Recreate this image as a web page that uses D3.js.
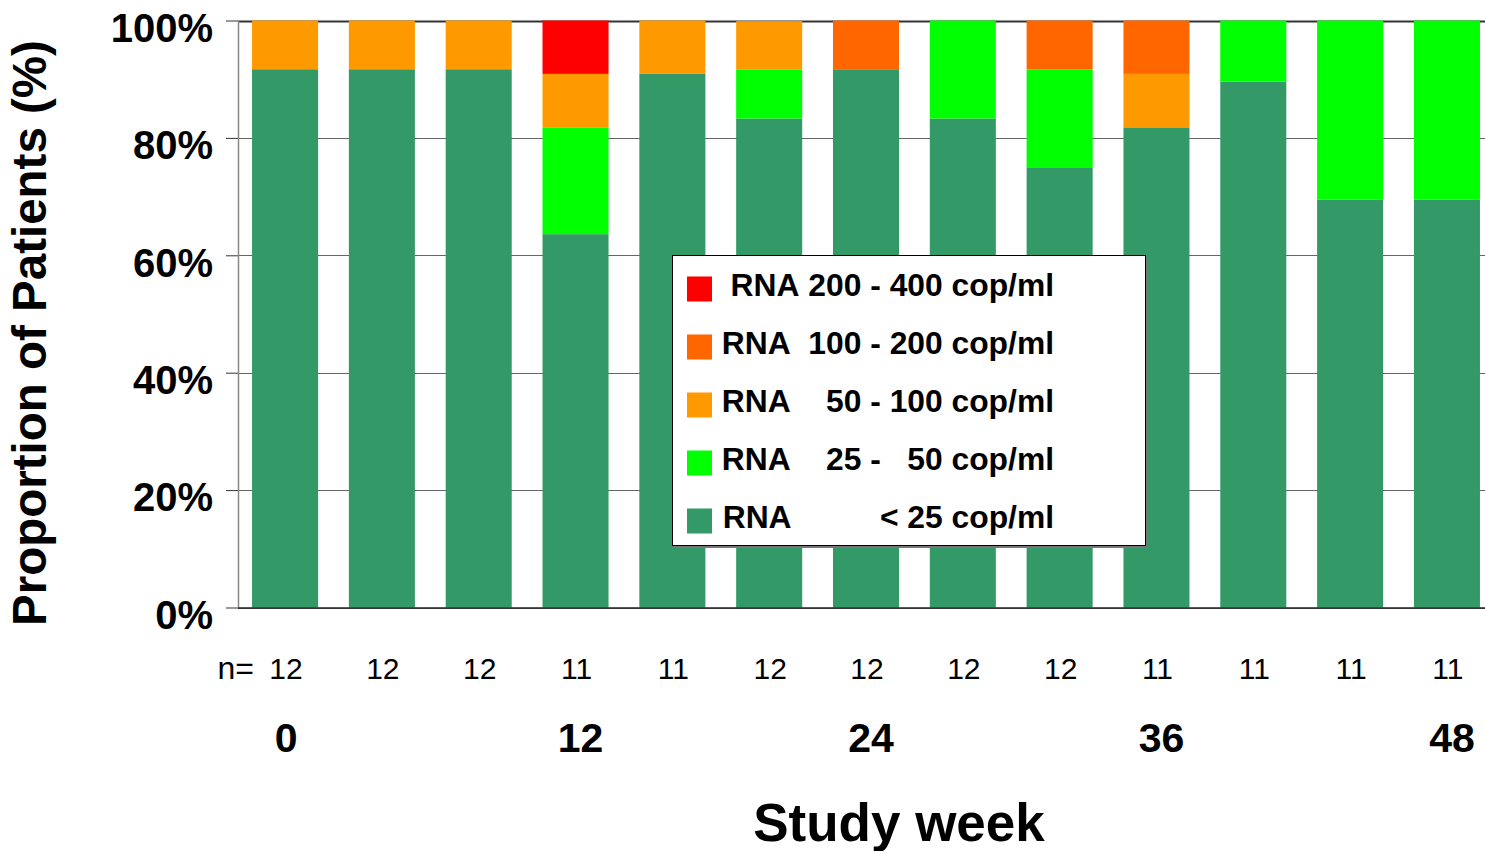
<!DOCTYPE html>
<html>
<head>
<meta charset="utf-8">
<script src="https://cdn.jsdelivr.net/npm/d3@7"></script>
<style>
  html, body { margin: 0; padding: 0; background: #fff; }
  svg { display: block; font-family: "Liberation Sans", Arial, sans-serif; }
</style>
</head>
<body>
<div id="chart"></div>
<script>
// data (percent of patients per visit)
var nLabels = ["12", "12", "12", "11", "11", "12", "12", "12", "12", "11", "11", "11", "11"];
var weekLabels = ["0", "", "", "12", "", "", "24", "", "", "36", "", "", "48"];
var below25   = [91.7, 91.7, 91.7, 63.6, 90.9, 83.3, 91.7, 83.3, 75.0, 81.8, 89.6, 69.5, 69.5];
var r25to50   = [0, 0, 0, 18.2, 0, 8.3, 0, 16.7, 16.7, 0, 10.4, 30.5, 30.5];
var r50to100  = [8.3, 8.3, 8.3, 9.1, 9.1, 8.3, 0, 0, 0, 9.1, 0, 0, 0];
var r100to200 = [0, 0, 0, 0, 0, 0, 8.3, 0, 8.3, 9.1, 0, 0, 0];
var r200to400 = [0, 0, 0, 9.1, 0, 0, 0, 0, 0, 0, 0, 0, 0];
var seriesKeys = ["lt25", "r25", "r50", "r100", "r200"];
var seriesColors = ["#339966", "#00ff00", "#ff9900", "#ff6600", "#ff0000"];
// legend, top row first (spacing as in the original)
var legendKeys = ["r200", "r100", "r50", "r25", "lt25"];
var legendLabels = [
    "RNA 200 - 400 cop/ml",
    "RNA  100 - 200 cop/ml",
    "RNA    50 - 100 cop/ml",
    "RNA    25 -   50 cop/ml",
    "RNA          < 25 cop/ml"
];
var yTicks = [0, 20, 40, 60, 80, 100];

var width = 1485, height = 851;
var plotLeft = 238, plotTop = 20.5, plotBottom = 607.5;

var rows = nLabels.map(function(n, i){
    return {i: i, lt25: below25[i], r25: r25to50[i], r50: r50to100[i], r100: r100to200[i], r200: r200to400[i]};
});

var svg = d3.select("#chart")
    .append("svg")
    .attr("width", width)
    .attr("height", height);

var x = d3.scaleBand()
    .domain(d3.range(nLabels.length))
    .range([plotLeft, 1494])
    .paddingInner(0.318)
    .paddingOuter(0.145);

var y = d3.scaleLinear()
    .domain([0, 100])
    .range([plotBottom, plotTop]);

var color = d3.scaleOrdinal()
    .domain(seriesKeys)
    .range(seriesColors);

// gridlines
svg.append("g")
    .selectAll("line")
    .data(yTicks)
    .enter()
    .append("line")
    .attr("x1", plotLeft)
    .attr("x2", width)
    .attr("y1", d => Math.round(y(d)) + 0.5)
    .attr("y2", d => Math.round(y(d)) + 0.5)
    .attr("stroke", d => (d === 100 ? "#333" : "#666"))
    .attr("stroke-width", d => (d === 100 ? 2 : 1));

// y axis
var yAxis = svg.append("g")
    .attr("transform", "translate(" + plotLeft + ",0)")
    .call(d3.axisLeft(y).tickValues(yTicks).tickSize(12).tickPadding(13).tickFormat(d => d + "%"));
yAxis.select(".domain").remove();
yAxis.selectAll(".tick line").attr("stroke", "#333");
yAxis.selectAll(".tick text")
    .attr("font-size", 40)
    .attr("font-weight", "bold")
    .attr("font-family", "Liberation Sans, Arial, sans-serif")
    .attr("fill", "#000")
    .attr("dy", "0.52em");

svg.append("line")
    .attr("x1", plotLeft + 0.5).attr("x2", plotLeft + 0.5)
    .attr("y1", plotTop).attr("y2", plotBottom)
    .attr("stroke", "#888")
    .attr("stroke-width", 1.5);

// stacked bars
var stacked = d3.stack().keys(seriesKeys)(rows);
svg.append("g")
    .selectAll("g")
    .data(stacked)
    .enter()
    .append("g")
    .attr("fill", d => color(d.key))
    .selectAll("rect")
    .data(d => d)
    .enter()
    .append("rect")
    .attr("x", d => x(d.data.i))
    .attr("width", x.bandwidth())
    .attr("y", d => y(d[1]))
    .attr("height", d => y(d[0]) - y(d[1]));

// baseline
svg.append("line")
    .attr("x1", plotLeft).attr("x2", width)
    .attr("y1", plotBottom + 0.5).attr("y2", plotBottom + 0.5)
    .attr("stroke", "#222")
    .attr("stroke-width", 1.5);

// n labels
svg.append("g")
    .selectAll("text")
    .data(nLabels)
    .enter()
    .append("text")
    .attr("x", (d, i) => x(i) + x.bandwidth() / 2 + 1)
    .attr("y", 679)
    .attr("text-anchor", "middle")
    .attr("font-size", 30)
    .text(d => d);
svg.append("text")
    .attr("x", x(0) + x.bandwidth() / 2 - 31)
    .attr("y", 679)
    .attr("text-anchor", "end")
    .attr("font-size", 32)
    .text("n=");

// week labels
svg.append("g")
    .selectAll("text")
    .data(weekLabels)
    .enter()
    .append("text")
    .attr("x", (d, i) => x(i) + x.bandwidth() / 2 + (i === 0 ? 1 : 5))
    .attr("y", 752)
    .attr("text-anchor", "middle")
    .attr("font-size", 41)
    .attr("font-weight", "bold")
    .text(d => d);

svg.append("text")
    .attr("x", 899)
    .attr("y", 841)
    .attr("text-anchor", "middle")
    .attr("font-size", 53)
    .attr("font-weight", "bold")
    .text("Study week");

svg.append("text")
    .attr("transform", "translate(46,333)rotate(-90)")
    .attr("text-anchor", "middle")
    .attr("font-size", 47.5)
    .attr("font-weight", "bold")
    .text("Proportion of Patients (%)");

// legend
var lg = svg.append("g").attr("transform", "translate(672,255)");
lg.append("rect")
    .attr("x", 2).attr("y", 2)
    .attr("width", 473).attr("height", 291)
    .attr("fill", "#777");
lg.append("rect")
    .attr("x", 0.5).attr("y", 0.5)
    .attr("width", 473).attr("height", 290)
    .attr("fill", "#fff")
    .attr("stroke", "#000")
    .attr("stroke-width", 1);

var item = lg.selectAll("g.item")
    .data(legendKeys)
    .enter()
    .append("g")
    .attr("class", "item")
    .attr("transform", (d, i) => "translate(0," + (34 + i * 58) + ")");
item.append("rect")
    .attr("x", 15).attr("y", -12.5)
    .attr("width", 25).attr("height", 25)
    .attr("fill", d => color(d));
item.append("text")
    .attr("x", 382)
    .attr("y", 7)
    .attr("text-anchor", "end")
    .attr("font-size", 31.8)
    .attr("font-weight", "bold")
    .text((d, i) => legendLabels[i].replace(/ /g, "\u00a0"));
</script>
</body>
</html>
